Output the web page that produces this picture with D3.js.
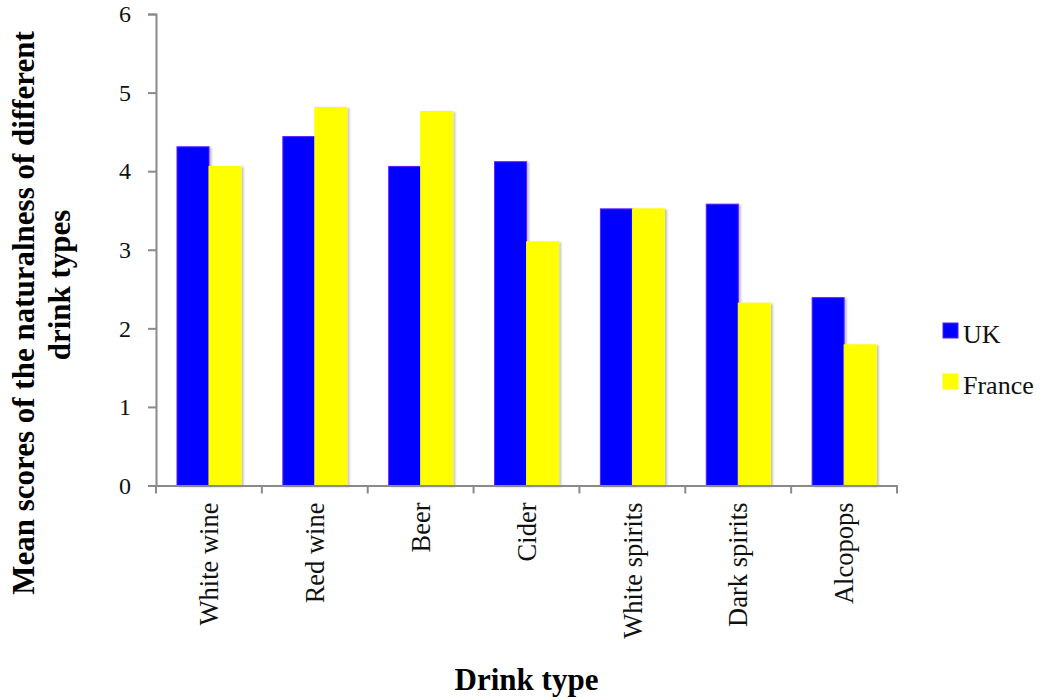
<!DOCTYPE html>
<html>
<head>
<meta charset="utf-8">
<script src="https://cdn.jsdelivr.net/npm/d3@7"></script>
<style>
  html, body { margin: 0; padding: 0; background: #fff; }
  svg { display: block; }
</style>
</head>
<body>
<svg id="chart" width="1042" height="700"></svg>
<script>
// Mean naturalness scores by drink type, UK vs France
const categories = ["White wine", "Red wine", "Beer", "Cider", "White spirits", "Dark spirits", "Alcopops"];
const seriesNames = ["UK", "France"];
const ukValues = [4.31, 4.44, 4.06, 4.12, 3.52, 3.58, 2.39];
const franceValues = [4.06, 4.81, 4.76, 3.10, 3.52, 2.32, 1.79];
const yTicks = [0, 1, 2, 3, 4, 5, 6];
const seriesColors = ["#0000ff", "#ffff00"];
const seriesStrokes = ["#5b1cff", "#ffff00"];

const rows = categories.map((c, i) => ({ category: c, UK: ukValues[i], France: franceValues[i] }));

const svg = d3.select("#chart");
const plotLeft = 156, plotRight = 897, plotTop = 14, plotBottom = 485.5;

const x0 = d3.scaleBand().domain(categories).range([plotLeft, plotRight]).padding(0);
const x1 = d3.scaleBand().domain(seriesNames).range([21, 85]).padding(0);
const y = d3.scaleLinear().domain([0, 6]).range([plotBottom, plotTop]);

const serif = "'Liberation Serif', 'Times New Roman', serif";

// soft shadow under the bars
const defs = svg.append("defs");
const f = defs.append("filter").attr("id", "barShadow")
  .attr("x", "-20%").attr("y", "-5%").attr("width", "150%").attr("height", "115%");
f.append("feDropShadow").attr("dx", 2).attr("dy", 1).attr("stdDeviation", 1.2)
  .attr("flood-color", "#000").attr("flood-opacity", 0.25);

// bars
const groups = svg.append("g").selectAll("g").data(rows).join("g")
  .attr("transform", d => `translate(${x0(d.category)},0)`);

groups.selectAll("rect")
  .data(d => seriesNames.map((s, i) => ({ key: s, value: d[s], idx: i })))
  .join("rect")
  .attr("x", d => x1(d.key))
  .attr("y", d => y(d.value))
  .attr("width", x1.bandwidth())
  .attr("height", d => y(0) - y(d.value))
  .attr("fill", d => seriesColors[d.idx])
  .attr("stroke", d => seriesStrokes[d.idx])
  .attr("stroke-width", 1)
  .attr("filter", "url(#barShadow)");

// y axis
const yAxis = svg.append("g")
  .attr("transform", `translate(${plotLeft},0)`)
  .call(d3.axisLeft(y).tickValues(yTicks).tickFormat(d3.format("d")).tickSize(8).tickPadding(17));
yAxis.select(".domain").attr("stroke", "#8a8a8a").attr("stroke-width", 2);
yAxis.selectAll(".tick line").attr("stroke", "#8a8a8a").attr("stroke-width", 2);
yAxis.selectAll(".tick text")
  .attr("font-family", serif).attr("font-size", 24).attr("fill", "#111");

// x axis, ticks on band boundaries
const xAxis = svg.append("g")
  .attr("transform", `translate(0,${plotBottom})`)
  .call(d3.axisBottom(x0).tickSize(0).tickPadding(0));
xAxis.select(".domain").attr("stroke", "#8a8a8a").attr("stroke-width", 2);
xAxis.selectAll(".tick line").remove();
xAxis.selectAll(".tick text")
  .attr("font-family", serif).attr("font-size", 26.5).attr("fill", "#111")
  .attr("transform", "rotate(-90)")
  .attr("text-anchor", "end")
  .attr("x", -17).attr("y", 0).attr("dy", "0.35em");

const boundaries = categories.map(c => x0(c)).concat([x0.range()[1]]);
xAxis.append("g").selectAll("line").data(boundaries).join("line")
  .attr("x1", d => d).attr("x2", d => d)
  .attr("y1", 0).attr("y2", 8)
  .attr("stroke", "#8a8a8a").attr("stroke-width", 2);

// axis titles
svg.append("text")
  .attr("x", (plotLeft + plotRight) / 2).attr("y", 690)
  .attr("text-anchor", "middle")
  .attr("font-family", serif).attr("font-weight", "bold").attr("font-size", 31)
  .attr("fill", "#000")
  .text("Drink type");

const yTitle = svg.append("text")
  .attr("transform", "translate(34,313) rotate(-90)")
  .attr("text-anchor", "middle")
  .attr("font-family", serif).attr("font-weight", "bold").attr("font-size", 31)
  .attr("fill", "#000");
yTitle.append("tspan").attr("x", 0).attr("y", 0).text("Mean scores of the naturalness of different");
yTitle.append("tspan").attr("x", 28).attr("y", 36).text("drink types");

// legend
const legend = svg.append("g").attr("transform", "translate(943,323)");
const items = legend.selectAll("g").data(seriesNames).join("g")
  .attr("transform", (d, i) => `translate(0,${i * 51})`);
items.append("rect")
  .attr("width", 15).attr("height", 15)
  .attr("fill", (d, i) => seriesColors[i])
  .attr("stroke", (d, i) => seriesStrokes[i]);
items.append("text")
  .attr("x", 20).attr("y", 20)
  .attr("font-family", serif).attr("font-size", 26).attr("fill", "#111")
  .text(d => d);
</script>
</body>
</html>
